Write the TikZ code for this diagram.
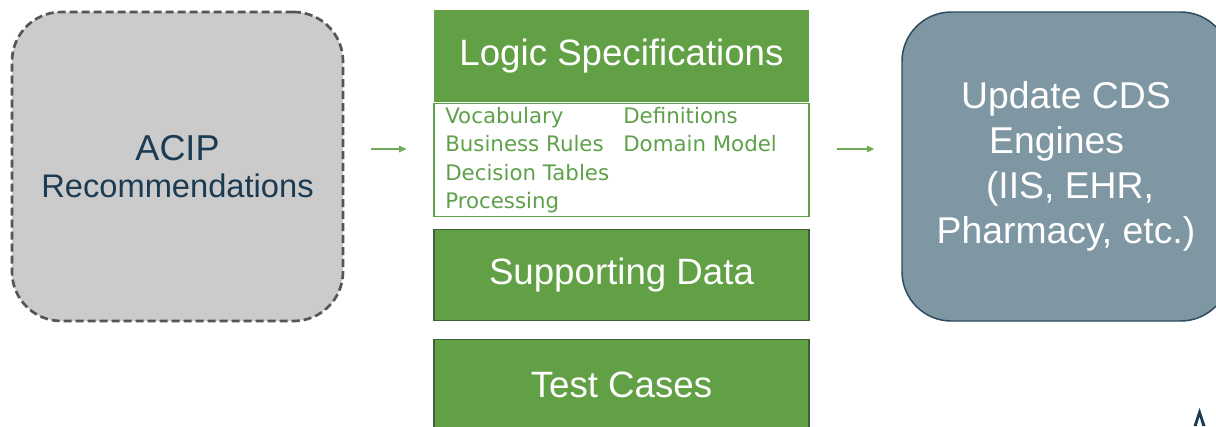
\documentclass[tikz,border=0pt]{standalone}
\usepackage{fontspec}
\setmainfont{Liberation Sans}
\newfontfamily\listfont{DejaVu Sans}
\usepackage{tikz}
\usetikzlibrary{arrows.meta}
\usetikzlibrary{positioning}
\definecolor{specgreen}{HTML}{62A046}
\definecolor{listgreen}{HTML}{5FA04A}
\definecolor{boxedge}{HTML}{3F5F35}
\definecolor{acipfill}{HTML}{CBCBCB}
\definecolor{acipedge}{HTML}{555555}
\definecolor{acipnavy}{HTML}{1B3B53}
\definecolor{cdsfill}{HTML}{7F96A3}
\definecolor{cdsedge}{HTML}{2E4B5E}

\begin{document}
\begin{tikzpicture}[x=0.75pt,y=-0.75pt,node distance=9pt,
		bigbox/.style={rectangle,rounded corners=37pt,minimum height=231.75pt,align=center,inner sep=0pt},
		greenbox/.style={rectangle,fill=specgreen,draw=boxedge,line width=0.8pt,minimum width=281.25pt,minimum height=68.5pt,text=white,font=\fontsize{27.5}{34}\selectfont},
		item/.style={text=listgreen,font=\listfont\fontsize{16}{20}\selectfont,inner sep=0pt,anchor=base west},
		flow/.style={draw=specgreen!90!white,line width=0.8pt,-{Triangle[length=5.5pt,width=5pt]},shorten <=20.25pt,shorten >=20.25pt}]
			\useasboundingbox (0,0) rectangle (1216,426);
			\clip (0,0) rectangle (1216,426);
			\node[bigbox,fill=acipfill,draw=acipedge,line width=2pt,dash pattern=on 6pt off 3pt,minimum width=248.25pt,text=acipnavy,font=\fontsize{24.5}{27.75}\selectfont] (acip) at (177.5,166.5) {{\fontsize{27}{27.75}\selectfont ACIP}\\Recommendations};
			\node[greenbox,draw=none,minimum height=69pt] (logic) at (621.5,56) {Logic Specifications};
			\node[rectangle,draw=listgreen,line width=1pt,minimum width=281.25pt,minimum height=84.75pt] (specs) [below=0pt of logic] {};
			\node[greenbox] (support) [below=of specs] {Supporting Data};
			\node[greenbox] (tests) [below=13pt of support] {Test Cases};
			\node[bigbox,fill=cdsfill,draw=cdsedge,line width=1.1pt,minimum width=246pt,text=white,font=\fontsize{28}{33.75}\selectfont] (cds) at (1066,166.5) {Update CDS\\Engines\hspace{14pt}\mbox{}\\\hspace*{6pt}(IIS, EHR,\\Pharmacy, etc.)};
			% specification contents
			\node[item] (vocab) at (445,123) {Vocabulary};
			\node[item] (rules) at (445,151.7) {Business Rules};
			\node[item] (tables) at (445,180.5) {Decision Tables};
			\node[item] (proc) at (445,208.5) {Processing};
			\node[item] (defs) at (623,123) {Definitions};
			\node[item] (domain) at (623,151.7) {Domain Model};
			\draw[flow] (acip.east |- 0,149) -- (logic.west |- 0,149);
			\draw[flow] (logic.east |- 0,149) -- (cds.west |- 0,149);
			\fill[acipnavy] (1193.5,426) -- (1199.5,408) -- (1205.5,426) -- (1202.3,426) -- (1199.5,416.5) -- (1196.7,426) -- cycle;
		\end{tikzpicture}
\end{document}
